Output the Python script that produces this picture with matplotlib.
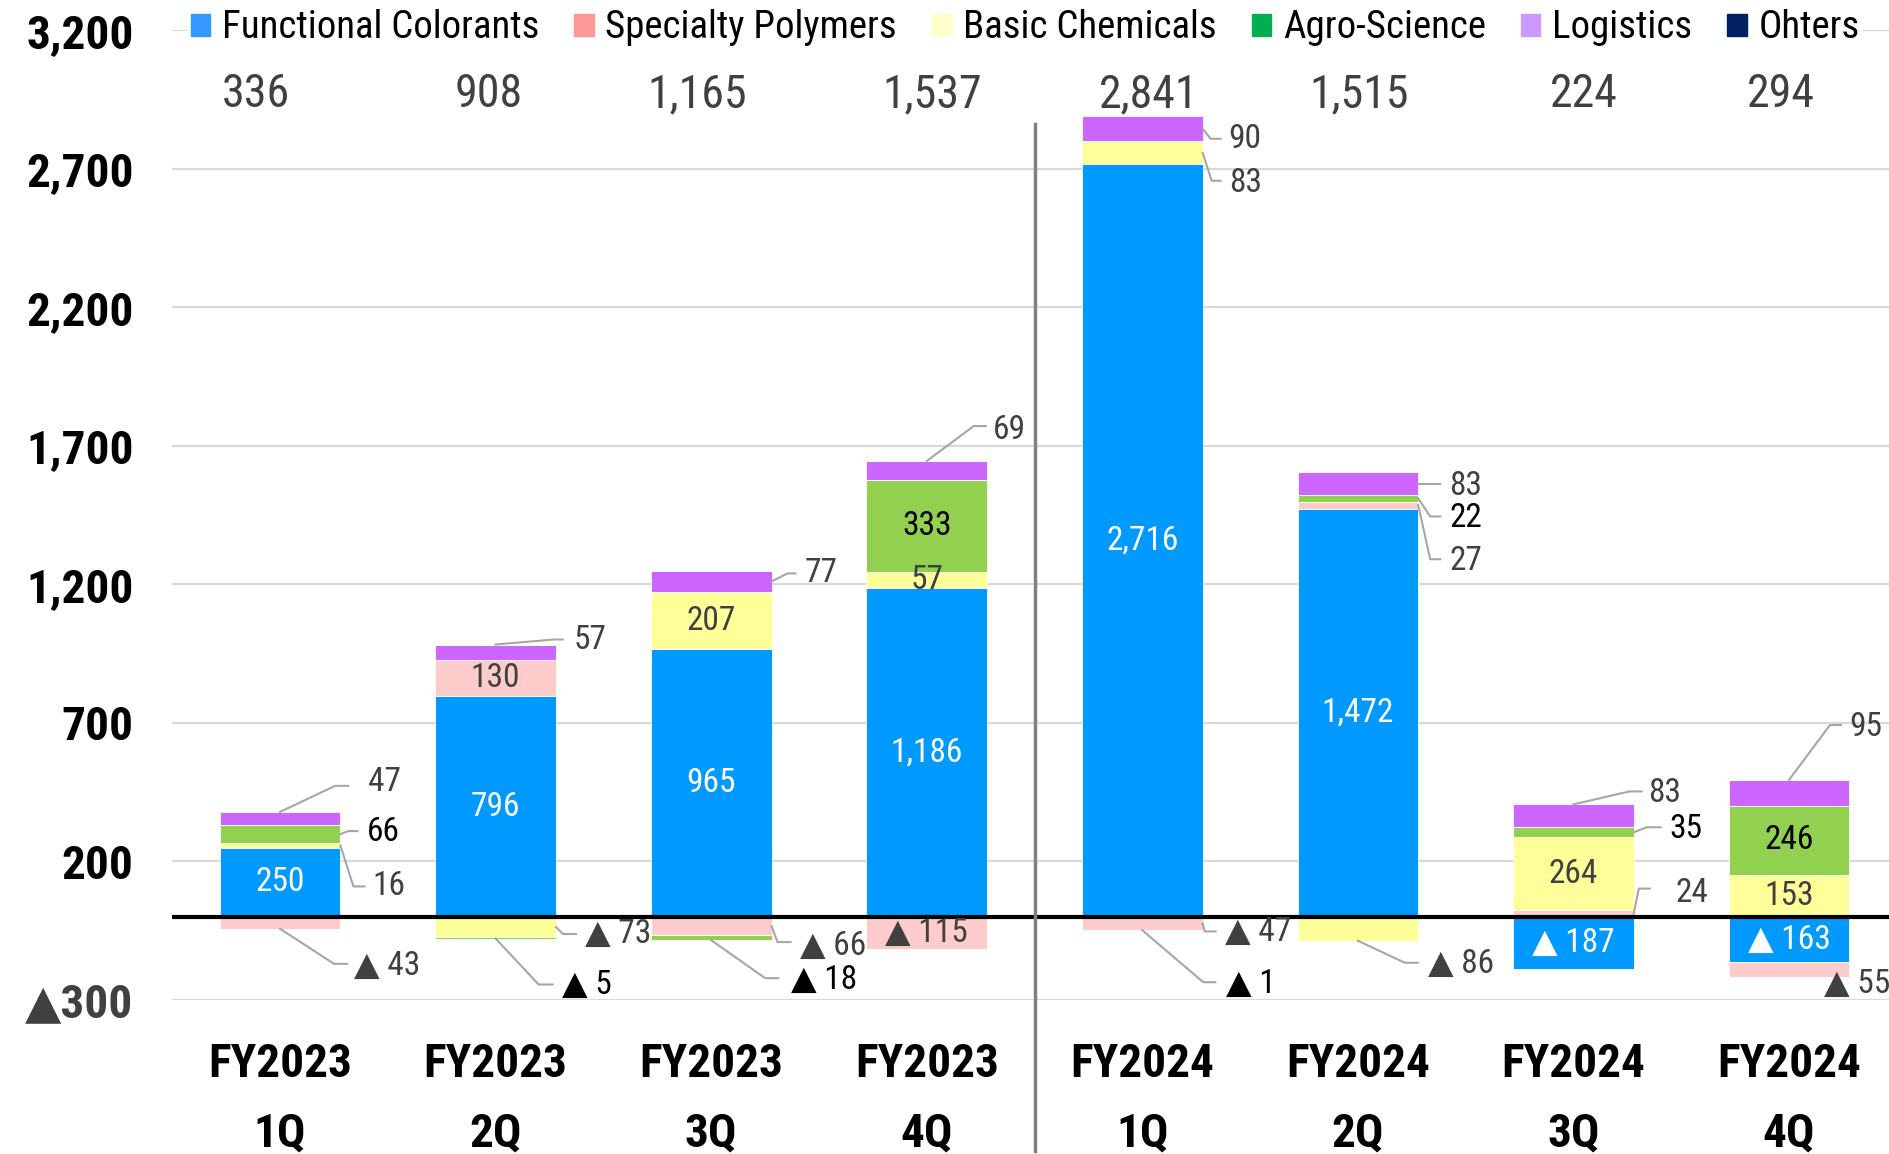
import matplotlib
matplotlib.use('Agg')
import matplotlib.pyplot as plt
from matplotlib import font_manager
from matplotlib.patches import Patch
import numpy as np

# шрифт: узкий, как в оригинале (берём первый установленный)
names = {f.name for f in font_manager.fontManager.ttflist}
candidates = ['Roboto Condensed', 'Liberation Sans Narrow', 'PT Sans Narrow', 'Open Sans Condensed',
              'Fira Sans Condensed', 'IBM Plex Sans Condensed', 'Archivo Narrow',
              'Barlow Semi Condensed', 'Sofia Sans Semi Condensed', 'Liberation Sans']
base_font = next(n for n in candidates if n in names)
plt.rcParams['font.family'] = [base_font, 'DejaVu Sans']

## Данные
years = ['FY2023'] * 4 + ['FY2024'] * 4
quarters = ['1Q', '2Q', '3Q', '4Q'] * 2
fc = [250, 796, 965, 1186, 2716, 1472, -187, -163]
sp = [-43, 130, -66, -115, -47, 27, 24, -55]
bc = [16, -73, 207, 57, 83, -86, 264, 153]
agro = [66, -5, -18, 333, -1, 22, 35, 246]
logi = [47, 57, 77, 69, 90, 83, 83, 95]
others = [0, 0, 0, 0, 0, 0, 0, 0]
totals = [336, 908, 1165, 1537, 2841, 1515, 224, 294]
yticks = [-300, 200, 700, 1200, 1700, 2200, 2700, 3200]

series = {'fc': fc, 'sp': sp, 'bc': bc, 'agro': agro, 'logi': logi, 'others': others}
legend_names = ['Functional Colorants', 'Specialty Polymers', 'Basic Chemicals',
                'Agro-Science', 'Logistics', 'Ohters']
bar_colors = {'fc': '#0099FF', 'sp': '#FFCCCC', 'bc': '#FFFF99',
              'agro': '#92D050', 'logi': '#CC66FF', 'others': '#002060'}
legend_colors = ['#3399FF', '#FF9999', '#FFFFCC', '#00B050', '#CC99FF', '#002060']
text_colors = {'fc': 'white', 'agro': 'black'}
GRAY = '#404040'

# сдвиг итогов по горизонтали (px), как в оригинале
total_shift = [-24, -7, -14, 5, 6, 1, 10, -8]

# подписи внутри сегментов
inside = [('fc', i) for i in range(8)] + [('sp', 1), ('bc', 2), ('bc', 3), ('agro', 3),
                                          ('sp', 3), ('bc', 6), ('agro', 7), ('bc', 7)]
# подписи снаружи: серия, квартал, точка привязки, излом (px), конец линии (px), текст (px)
outside = [
    ('logi', 0, 'top', (55, 26), 68, (88, 30)),
    ('agro', 0, 'right', (8, 3), 17, (26, 2)),
    ('bc', 0, 'right', (13, -41), 24, (32, -41)),
    ('sp', 0, 'bottom', (54, -35), 67, (74, -37)),
    ('logi', 1, 'top', (58, 5), 67, (78, 5)),
    ('bc', 1, 'right', (7, -7), 20, (29, -7)),
    ('agro', 1, 'bottom', (43, -46), 57, (66, -46)),
    ('logi', 2, 'right', (16, 8), 24, (33, 8)),
    ('sp', 2, 'right', (6, -16), 19, (28, -20)),
    ('agro', 2, 'bottom', (54, -38), 67, (80, -40)),
    ('logi', 3, 'top', (47, 35), 59, (66, 31)),
    ('logi', 4, 'right', (8, -10), 18, (26, -10)),
    ('bc', 4, 'right', (9, -28), 18, (26, -30)),
    ('sp', 4, 'right', (2, -8), 13, (22, -9)),
    ('agro', 4, 'bottom', (61, -52), 73, (84, -54)),
    ('logi', 5, 'right', (5, 0), 22, (31, -2)),
    ('agro', 5, 'right', (12, -18), 22, (31, -20)),
    ('sp', 5, 'right', (12, -54), 22, (31, -56)),
    ('bc', 5, 'bottom', (47, -22), 60, (70, -23)),
    ('logi', 6, 'top', (56, 13), 68, (75, 11)),
    ('agro', 6, 'right', (13, 5), 27, (36, 3)),
    ('sp', 6, 'right', (5, 25), 16, (42, 21)),
    ('logi', 7, 'top', (41, 55), 52, (60, 53)),
    ('sp', 7, 'bottom', None, None, (35, -7)),
]


def fmt(v):
    return f'{v:,}' if v >= 0 else f'▲ {-v:,}'


## График
fig = plt.figure(figsize=(18.89, 11.54), dpi=100)
ax = fig.add_axes([0.0912, 0.1334, 0.9088, 0.8405])
ax.set_xlim(-0.5, 7.464)
ax.set_ylim(-300, 3200)

x = np.arange(len(fc))
width = 0.56
pos_base = np.zeros(len(fc))
neg_base = np.zeros(len(fc))
segs = {}
for key, vals in series.items():
    vals = np.array(vals, dtype=float)
    bottom = np.where(vals >= 0, pos_base, neg_base)
    ax.bar(x, vals, width, bottom=bottom, color=bar_colors[key],
           edgecolor='white', linewidth=0.6, zorder=2)
    segs[key] = (bottom, bottom + vals)
    pos_base += np.where(vals > 0, vals, 0)
    neg_base += np.where(vals < 0, vals, 0)

# сетка, ноль, разделитель
ax.set_yticks(yticks)
ax.set_yticklabels([f'{t:,}' if t >= 0 else f'▲{-t:,}' for t in yticks],
                   fontsize=34, fontweight='bold')
for t, lbl in zip(yticks, ax.get_yticklabels()):
    if t < 0:
        lbl.set_color(GRAY)
ax.tick_params(axis='y', length=0, pad=28)
ax.set_xticks([])
ax.yaxis.grid(True, color='#D9D9D9', linewidth=1.6)
ax.set_axisbelow(True)
for s in ax.spines.values():
    s.set_visible(False)
ax.axhline(0, color='black', linewidth=3, zorder=4)
ax.plot([3.5, 3.5], [-843, 2860], color='#808080', linewidth=2.5, clip_on=False, zorder=4)

# подписи внутри
for key, i in inside:
    b, t = segs[key]
    v = series[key][i]
    ax.text(i, (b[i] + t[i]) / 2, fmt(v), ha='center', va='center', fontsize=24,
            color=text_colors.get(key, GRAY), zorder=5)

# подписи снаружи с выносками
to_data = ax.transData.inverted()
for key, i, kind, elbow, end_dx, toff in outside:
    b, t = segs[key]
    v = series[key][i]
    if kind == 'top':
        anchor = (i, max(b[i], t[i]))
    elif kind == 'bottom':
        anchor = (i, min(b[i], t[i]))
    else:
        anchor = (i + width / 2, (b[i] + t[i]) / 2)
    ap = ax.transData.transform(anchor)
    if elbow is not None:
        pts = np.array([ap, ap + np.array(elbow), ap + np.array([end_dx, elbow[1]])])
        dpts = to_data.transform(pts)
        ax.plot(dpts[:, 0], dpts[:, 1], color='#A6A6A6', linewidth=1.5, clip_on=False, zorder=5)
    tx, ty = to_data.transform(ap + np.array(toff))
    ax.text(tx, ty, fmt(v), ha='left', va='center', fontsize=24,
            color=text_colors.get(key, GRAY) if key != 'fc' else GRAY, zorder=5, clip_on=False)

# итоги сверху
for i, tot in enumerate(totals):
    p = ax.transData.transform((i, 2968)) + np.array([total_shift[i], 0])
    tx, ty = to_data.transform(p)
    ax.text(tx, ty, f'{tot:,}', ha='center', va='center', fontsize=33, color=GRAY)

# подписи категорий
for i in range(len(years)):
    ax.text(i, -530, years[i], ha='center', va='center', fontsize=34,
            fontweight='bold', clip_on=False)
    ax.text(i, -782, quarters[i], ha='center', va='center', fontsize=34,
            fontweight='bold', clip_on=False)

# легенда
handles = [Patch(facecolor=c, edgecolor=c) for c in legend_colors]
fig.legend(handles, legend_names, loc='center left', bbox_to_anchor=(187 / 1889, 1 - 28 / 1154),
           ncol=6, frameon=True, facecolor='white', edgecolor='none', framealpha=1,
           fontsize=28, handlelength=0.5, handleheight=0.5, handletextpad=0.3,
           columnspacing=0.9, borderaxespad=0, borderpad=0.1)

fig.savefig('out.png', dpi=100)
